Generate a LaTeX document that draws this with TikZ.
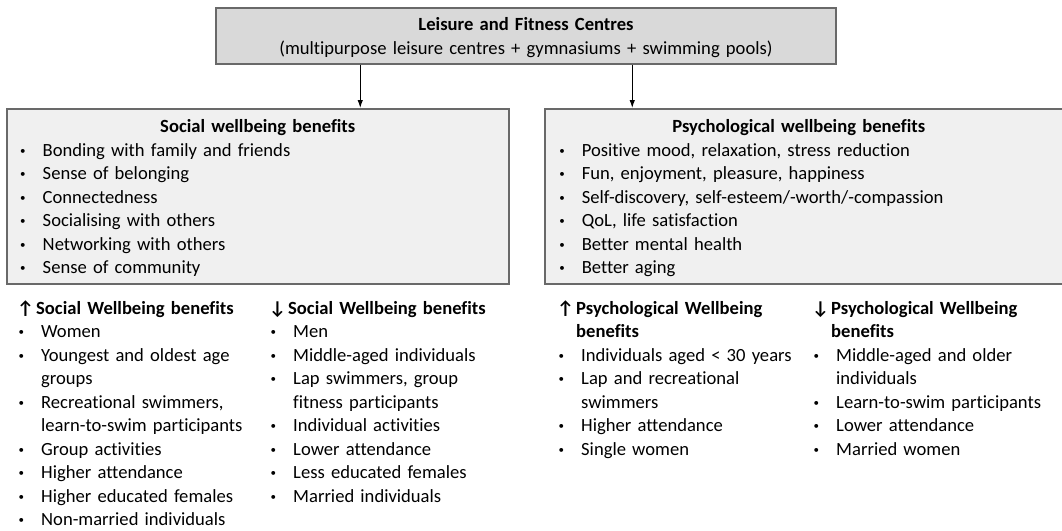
\documentclass[tikz,border=0pt]{standalone}
\usepackage{fontspec}
\setmainfont{Carlito}[Ligatures=NoCommon]
\usetikzlibrary{arrows.meta}
\definecolor{boxline}{RGB}{105,105,105}
\definecolor{topfill}{RGB}{217,217,217}
\definecolor{panelfill}{RGB}{240,240,240}
\newcommand\bul{\makebox[24pt][l]{\hspace*{1.5pt}\raisebox{2pt}{\fontsize{11}{11}\selectfont •}}}
\newcommand\ind{\hspace*{24pt}}
\newcommand\arup{\makebox[19pt][l]{↑}}
\newcommand\ardn{\makebox[19pt][l]{↓}}
\begin{document}
\begin{tikzpicture}[x=1pt,y=-1pt, font=\fontsize{18.6}{23.5}\selectfont,
  topbox/.style={draw=boxline, line width=1.5pt, fill=topfill, inner xsep=10pt, inner ysep=0pt, align=center},
  panel/.style={draw=boxline, line width=1.5pt, fill=panelfill, inner ysep=0pt, align=left, anchor=north west, text height=24pt, text depth=151pt},
  column/.style={anchor=base west, inner sep=0pt, align=left},
  arr/.style={-{Latex[length=8pt,width=5.5pt]}, line width=1pt}]
  \useasboundingbox (0,0) rectangle (1062,530);
  \clip (0,0) rectangle (1062,530);
  \node[topbox, anchor=north, text width=600pt, text height=23pt, text depth=33pt] (lfc) at (526,7)
    {\textbf{Leisure and Fitness Centres}\\(multipurpose leisure centres + gymnasiums + swimming pools)};
  \node[panel, inner xsep=12pt, text width=478pt] (social) at (6,108)
    {\makebox[478pt]{\bfseries Social wellbeing benefits}\\
     \bul Bonding with family and friends\\
     \bul Sense of belonging\\
     \bul Connectedness\\
     \bul Socialising with others\\
     \bul Networking with others\\
     \bul Sense of community};
  \node[panel, inner xsep=13pt, text width=504pt] (psych) at (544,108)
    {\makebox[482pt]{\bfseries Psychological wellbeing benefits}\\
     \bul Positive mood, relaxation, stress reduction\\
     \bul Fun, enjoyment, pleasure, happiness\\
     \bul Self-discovery, self-esteem/-worth/-compassion\\
     \bul QoL, life satisfaction\\
     \bul Better mental health\\
     \bul Better aging};
  \draw[arr] ([xshift=145pt]lfc.south west) -- ([xshift=145pt]lfc.south west |- social.north);
  \draw[arr] ([xshift=417pt]lfc.south west) -- ([xshift=417pt]lfc.south west |- psych.north);
  \node[column, text width=248pt] (socup) at (17,314)
    {\textbf{\arup Social Wellbeing benefits}\\
     \bul Women\\
     \bul Youngest and oldest age\\
     \ind groups\\
     \bul Recreational swimmers,\\
     \ind learn-to-swim participants\\
     \bul Group activities\\
     \bul Higher attendance\\
     \bul Higher educated females\\
     \bul Non-married individuals};
  \node[column, text width=240pt] (socdown) at (269,314)
    {\textbf{\ardn Social Wellbeing benefits}\\
     \bul Men\\
     \bul Middle-aged individuals\\
     \bul Lap swimmers, group\\
     \ind fitness participants\\
     \bul Individual activities\\
     \bul Lower attendance\\
     \bul Less educated females\\
     \bul Married individuals};
  \node[column, text width=250pt] (psyup) at (557,314)
    {\textbf{\arup Psychological Wellbeing}\\
     \textbf{\hspace*{19pt}benefits}\\
     \bul Individuals aged < 30 years\\
     \bul Lap and recreational\\
     \ind swimmers\\
     \bul Higher attendance\\
     \bul Single women};
  \node[column, text width=245pt] (psydown) at (812,314)
    {\textbf{\ardn Psychological Wellbeing}\\
     \textbf{\hspace*{19pt}benefits}\\
     \bul Middle-aged and older\\
     \ind individuals\\
     \bul Learn-to-swim participants\\
     \bul Lower attendance\\
     \bul Married women};
\end{tikzpicture}
\end{document}
